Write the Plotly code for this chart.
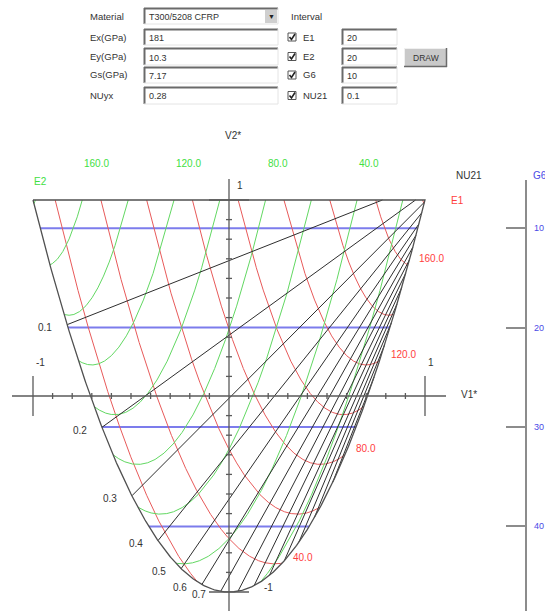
import numpy as np
import plotly.graph_objects as go

# ---------------- data ----------------
MATERIAL = "T300/5208 CFRP"
EX, EY, GS, NUXY = 181.0, 10.3, 7.17, 0.28          # GPa, GPa, GPa, -
FORM_LABELS = ["Ex(GPa)", "Ey(GPa)", "Gs(GPa)", "NUyx"]
FORM_VALUES = ["181", "10.3", "7.17", "0.28"]
INTERVAL_NAMES = ["E1", "E2", "G6", "NU21"]
INTERVAL_VALUES = ["20", "20", "10", "0.1"]

E1_LEVELS = [20, 40, 60, 80, 100, 120, 140, 160, 180]
E2_LEVELS = [20, 40, 60, 80, 100, 120, 140, 160, 180]
E1_LABELED = [40, 80, 120, 160]
E2_LABELED = [40, 80, 120, 160]
G6_LEVELS = [10, 20, 30, 40]
NU21_LEVELS = [0.1, 0.2, 0.3, 0.4, 0.5, 0.6, 0.7, 0.8, 0.9, 1.0, 1.1, 1.2, 1.3, 1.4]
V_TICKS = [round(-1 + 0.1 * i, 1) for i in range(21)]

# ---------------- page geometry ----------------
PW, PH = 545, 611          # browser window
OFF = 0                    # body margin removed by post_script below
W, H = PW - OFF, PH - OFF  # figure size
X0, Y0, S = 229.0 - OFF, 396.0 - OFF, 196.0   # figure pixel of (V1,V2)=(0,0), px per unit

RED_L, RED_T = "#e85a5a", "#ff3d3d"
GREEN_L, GREEN_T = "#62d862", "#3fe03f"
BLUE_L, BLUE_T = "#7c7cec", "#4a4ae6"
BLACK_L = "#2e2e2e"
AX = "#5a5a5a"
FONT = "Liberation Sans, Arial, sans-serif"

# ---------------- laminate invariants ----------------
nuyx = NUXY * EY / EX
d = 1 - NUXY * nuyx
Q11, Q22, Q12, Q66 = EX / d, EY / d, NUXY * EY / d, GS
U1 = (3 * Q11 + 3 * Q22 + 2 * Q12 + 4 * Q66) / 8
U2 = (Q11 - Q22) / 2
U3 = (Q11 + Q22 - 2 * Q12 - 4 * Q66) / 8
U4 = (Q11 + Q22 + 6 * Q12 - 4 * Q66) / 8
U5 = (Q11 + Q22 - 2 * Q12 + 4 * Q66) / 8


def inside(x, y):
    return (np.abs(x) <= np.sqrt(np.clip((1 + y) / 2, 0, None)) + 1e-9) & (y <= 1 + 1e-9)


def e_curve(L, sign):
    v2s = max((L + 2 * U4 - 2 * U1) / (4 * U3), -1.0)
    t = np.linspace(0, 1, 1600)
    V2 = v2s + (1 - v2s) * t ** 2
    a = U1 + U3 * V2
    c = U4 - U3 * V2
    D = np.sqrt(np.clip((2 * a - L) ** 2 - 4 * c ** 2, 0, None))
    up = (2 * a - L + D) / 2
    um = (2 * a - L - D) / 2
    V1p = sign * (a - up) / U2
    V1m = sign * (a - um) / U2
    X = np.concatenate([V1p[::-1], V1m])
    Y = np.concatenate([V2[::-1], V2])
    ok = inside(X, Y)
    X = np.where(ok, X, np.nan)
    Y = np.where(ok, Y, np.nan)
    return X, Y


def join(curves):
    xs, ys = [], []
    for X, Y in curves:
        xs += [None if np.isnan(v) else float(v) for v in X] + [None]
        ys += [None if np.isnan(v) else float(v) for v in Y] + [None]
    return xs, ys


fig = go.Figure()
ann = []
shapes = []

# G6 lines (horizontal)
gx, gy = [], []
for G in G6_LEVELS:
    v2 = (U5 - G) / U3
    if -1 < v2 < 1:
        h = np.sqrt((1 + v2) / 2)
        gx += [-h, h, None]
        gy += [v2, v2, None]
fig.add_trace(go.Scatter(x=gx, y=gy, mode="lines", line=dict(color=BLUE_L, width=2), hoverinfo="skip"))

# E1 curves
e1c = [e_curve(L, 1) for L in E1_LEVELS]
x, y = join(e1c)
fig.add_trace(go.Scatter(x=x, y=y, mode="lines", line=dict(color=RED_L, width=1), hoverinfo="skip"))
for L, (X, Y) in zip(E1_LEVELS, e1c):
    if L in E1_LABELED:
        idx = np.where(~np.isnan(X))[0]
        i = idx[-1]
        ann.append(dict(x=X[i], y=Y[i], text=f"{L:.1f}", showarrow=False, xanchor="left",
                        yanchor="middle", xshift=9, yshift=6, font=dict(color=RED_T, size=10)))

# E2 curves
e2c = [e_curve(L, -1) for L in E2_LEVELS]
x, y = join(e2c)
fig.add_trace(go.Scatter(x=x, y=y, mode="lines", line=dict(color=GREEN_L, width=1), hoverinfo="skip"))
for L, (X, Y) in zip(E2_LEVELS, e2c):
    if L in E2_LABELED and not np.isnan(X[0]):
        ann.append(dict(x=X[0], y=Y[0], text=f"{L:.1f}", showarrow=False, xanchor="left",
                        yanchor="middle", xshift=0, yshift=37, font=dict(color=GREEN_T, size=10)))

# NU21 lines
nx, ny = [], []
for nu in NU21_LEVELS:
    m = nu * U2 / (U3 * (1 + nu))
    b = (U4 - nu * U1) / (U3 * (1 + nu))
    disc = m * m + 8 * (b + 1)
    if disc <= 0:
        continue
    r1 = (m - np.sqrt(disc)) / 4
    r2 = (m + np.sqrt(disc)) / 4
    right = min(r2, (1 - b) / m)
    if r1 >= right:
        continue
    nx += [r1, right, None]
    ny += [m * r1 + b, m * right + b, None]
    if r1 < 0:
        ann.append(dict(x=r1, y=m * r1 + b, text=f"{nu:.1f}", showarrow=False, xanchor="right",
                        yanchor="middle", xshift=-13, yshift=-3, font=dict(color="#333", size=10)))
fig.add_trace(go.Scatter(x=nx, y=ny, mode="lines", line=dict(color=BLACK_L, width=1), hoverinfo="skip"))

# domain boundary
tb = np.linspace(-1, 1, 401)
bx = list(tb) + [-1.0]
by = list(2 * tb ** 2 - 1) + [1.0]
fig.add_trace(go.Scatter(x=bx, y=by, mode="lines", line=dict(color="#505050", width=1.3), hoverinfo="skip"))

# V1 / V2 axes
ext = 21 / S
minor = 3 / S
major = 20 / S
axx = [-1 - ext, 1 + ext, None, 0, 0, None]
axy = [0, 0, None, 1 + ext, (Y0 - H - 5) / S, None]
for v in V_TICKS:
    ln = major if abs(abs(v) - 1) < 1e-9 else minor
    if abs(v) < 1e-9:
        continue
    axx += [v, v, None, -ln, ln, None]
    axy += [-ln, ln, None, v, v, None]
fig.add_trace(go.Scatter(x=axx, y=axy, mode="lines", line=dict(color=AX, width=1.3), hoverinfo="skip"))

# hidden trace on the G6 axis
fig.add_trace(go.Scatter(x=[None], y=[None], yaxis="y2", hoverinfo="skip"))


def P(xp, yp):
    """page pixel -> paper fraction"""
    return (xp - OFF) / W, 1 - (yp - OFF) / H


def t(xp, yp, text, color="#333", size=10, anchor="left"):
    a, b = P(xp, yp)
    ann.append(dict(x=a, y=b, xref="paper", yref="paper", text=text, showarrow=False,
                    xanchor=anchor, yanchor="middle", font=dict(color=color, size=size)))


# chart texts
t(233, 135, "V2*", anchor="center")
t(32, 181, "E2", GREEN_T)
t(449, 200, "E1", RED_T)
t(454, 175, "NU21")
t(459, 394, "V1*")
t(531, 175, "G6", BLUE_T)
t(34, 362, "-1")
t(426, 362, "1")
t(235, 185, "1")
t(262, 587, "-1")

# G6 axis line and labels
G_AXIS_X = 526
a0, b0 = P(G_AXIS_X, 180)
a1, b1 = P(G_AXIS_X, PH)
shapes.append(dict(type="line", xref="paper", yref="paper", x0=a0, y0=b0, x1=a1, y1=b1,
                   line=dict(color="#8c8c8c", width=2)))
for G in G6_LEVELS:
    ann.append(dict(x=(G_AXIS_X + 6 - OFF) / W, xref="paper", y=(U5 - G) / U3, yref="y",
                    text=f"{G}", showarrow=False, xanchor="left", yanchor="middle",
                    font=dict(color=BLUE_T, size=9)))

# ---------------- form widgets ----------------
def rect(x0, y0, x1, y1, fill, line=None, lw=0):
    a0, b0 = P(x0, y1)
    a1, b1 = P(x1, y0)
    shapes.append(dict(type="rect", xref="paper", yref="paper", x0=a0, y0=b0, x1=a1, y1=b1,
                       fillcolor=fill, line=dict(color=line or fill, width=lw), layer="above"))


def seg(x0, y0, x1, y1, color, lw=1):
    a0, b0 = P(x0, y0)
    a1, b1 = P(x1, y1)
    shapes.append(dict(type="line", xref="paper", yref="paper", x0=a0, y0=b0, x1=a1, y1=b1,
                       line=dict(color=color, width=lw), layer="above"))


def field(x0, y0, x1, y1, text):
    rect(x0, y0, x1, y1, "#ffffff")
    seg(x0, y0 + 0.5, x1, y0 + 0.5, "#6a6a6a", 2)
    seg(x0 + 0.5, y0, x0 + 0.5, y1, "#6a6a6a", 2)
    seg(x0, y1, x1, y1, "#e4e4e4", 1)
    seg(x1, y0, x1, y1, "#e4e4e4", 1)
    t(x0 + 3, (y0 + y1) / 2 + 1, text, "#333", 9)


t(88, 16, "Material", "#333", 9.5)
field(144, 8, 278, 24, MATERIAL)
rect(265, 10, 277, 23, "#cfcfcf")
t(271, 16, "▼", "#222", 7, anchor="center")
t(289, 16, "Interval", "#333", 9.5)

rows = [(29, 45), (48, 65), (67, 83), (87, 104)]
for (y0, y1), lab, val, nm, iv in zip(rows, FORM_LABELS, FORM_VALUES, INTERVAL_NAMES, INTERVAL_VALUES):
    yc = (y0 + y1) / 2
    t(88, yc, lab, "#333", 9.5)
    field(144, y0, 278, y1, val)
    # checkbox
    rect(288, yc - 4, 296, yc + 4, "#ffffff", "#555", 1)
    c0 = P(289.5, yc)
    c1 = P(291.5, yc + 2.5)
    c2 = P(295, yc - 3)
    shapes.append(dict(type="path", xref="paper", yref="paper",
                       path=f"M {c0[0]} {c0[1]} L {c1[0]} {c1[1]} L {c2[0]} {c2[1]}",
                       line=dict(color="#222", width=1.6), layer="above"))
    t(301, yc, nm, "#333", 9.5)
    field(342, y0, 397, y1, iv)

# DRAW button
rect(404, 48, 447, 67, "#c9c9c9")
seg(404, 48.5, 447, 48.5, "#f0f0f0", 1)
seg(404.5, 48, 404.5, 67, "#f0f0f0", 1)
seg(404, 66.5, 447, 66.5, "#6a6a6a", 1.5)
seg(446.5, 48, 446.5, 67, "#6a6a6a", 1.5)
t(425.5, 57.5, "DRAW", "#333", 8.5, anchor="center")

# ---------------- layout ----------------
g_top = U5 - U3 * Y0 / S
g_bot = U5 - U3 * (Y0 - H) / S

fig.update_layout(
    width=W, height=H, margin=dict(l=0, r=0, t=0, b=0),
    paper_bgcolor="white", plot_bgcolor="white", showlegend=False,
    font=dict(family=FONT, size=10, color="#333"),
    xaxis=dict(range=[-X0 / S, (W - X0) / S], visible=False, domain=[0, 1]),
    yaxis=dict(range=[(Y0 - H) / S, Y0 / S], visible=False, domain=[0, 1]),
    yaxis2=dict(overlaying="y", anchor="free", position=(G_AXIS_X - OFF) / W, side="right",
                range=[g_bot, g_top], tickvals=G6_LEVELS, ticks="inside", ticklen=20, tickwidth=2,
                tickcolor="#8c8c8c", showticklabels=False, showline=False, showgrid=False,
                zeroline=False),
    annotations=ann, shapes=shapes, hovermode=False,
)

fig.write_html("out.html", config={"displayModeBar": False, "staticPlot": True},
               post_script="document.body.style.margin='0';document.body.style.overflow='hidden';")
